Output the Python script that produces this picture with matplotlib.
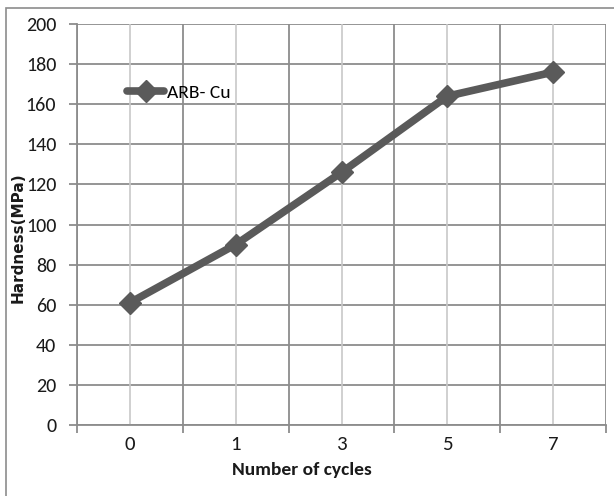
import matplotlib
matplotlib.use("Agg")
import matplotlib.pyplot as plt
from matplotlib.patches import Rectangle

categories = ["0", "1", "3", "5", "7"]
hardness = [61, 90, 126, 164, 176]
series_name = "ARB- Cu"
yticks = [0, 20, 40, 60, 80, 100, 120, 140, 160, 180, 200]

W, H = 614, 496
fig = plt.figure(figsize=(W / 100, H / 100), dpi=100)
L, R, T, B = 77, 606, 24, 425
ax = fig.add_axes([L / W, 1 - B / H, (R - L) / W, (B - T) / H])

fam = ["Carlito", "Liberation Sans Narrow", "Lato", "DejaVu Sans"]
x = list(range(len(categories)))

ax.set_xlim(-0.5, len(categories) - 0.5)
ax.set_ylim(0, 200)

# gridlines
for yv in yticks:
    ax.axhline(yv, color="#8c8c8c", lw=1.3, zorder=1)
for i in x:
    ax.axvline(i, color="#c8c8c8", lw=1.2, zorder=1)
for b in [i - 0.5 for i in x] + [len(categories) - 0.5]:
    ax.axvline(b, color="#8c8c8c", lw=1.3, zorder=1)

ax.plot(x, hardness, color="#5a5a5a", lw=5.5, marker="D", markersize=11,
        markerfacecolor="#5a5a5a", markeredgecolor="#5a5a5a", zorder=3,
        label=series_name, solid_capstyle="round")

ax.set_yticks(yticks)
ax.set_yticklabels([str(v) for v in yticks], fontfamily=fam, fontsize=14.5, color="#1a1a1a")
ax.set_xticks(x)
ax.set_xticklabels(categories, fontfamily=fam, fontsize=15, color="#1a1a1a")
ax.set_xticks([i - 0.5 for i in x] + [len(categories) - 0.5], minor=True)
ax.tick_params(axis="x", which="major", length=0, pad=8)
ax.tick_params(axis="x", which="minor", length=6, color="#8c8c8c", width=1.3)
ax.tick_params(axis="y", which="major", length=6, color="#8c8c8c", width=1.3, pad=9)

for s in ["top", "right"]:
    ax.spines[s].set_visible(False)
ax.spines["left"].set_color("#8c8c8c")
ax.spines["bottom"].set_color("#8c8c8c")
ax.spines["left"].set_linewidth(1.3)
ax.spines["bottom"].set_linewidth(1.3)

ax.set_xlabel("Number of cycles", fontfamily=fam, fontsize=14, fontweight="bold",
              color="#1a1a1a")
ax.xaxis.set_label_coords((302 - L) / (R - L), (B - 470) / (B - T))
ax.xaxis.label.set_va("center")
ax.set_ylabel("Hardness(MPa)", fontfamily=["DejaVu Sans"], fontsize=11, fontweight="bold",
              color="#1a1a1a")
ax.yaxis.set_label_coords((18 - L) / (R - L), (B - 238) / (B - T))
ax.yaxis.label.set_va("center")

leg = ax.legend(loc="upper left", bbox_to_anchor=(0.08, 0.87), frameon=False,
                prop={"family": fam, "size": 14}, handlelength=1.9, handletextpad=0.15,
                borderaxespad=0)

fig.patches.append(Rectangle((6 / W, -0.05), 1.1, 1 - 8 / H + 0.05,
                             transform=fig.transFigure, fill=False,
                             edgecolor="#8c8c8c", lw=1.2))

fig.savefig("out.png", dpi=100)
